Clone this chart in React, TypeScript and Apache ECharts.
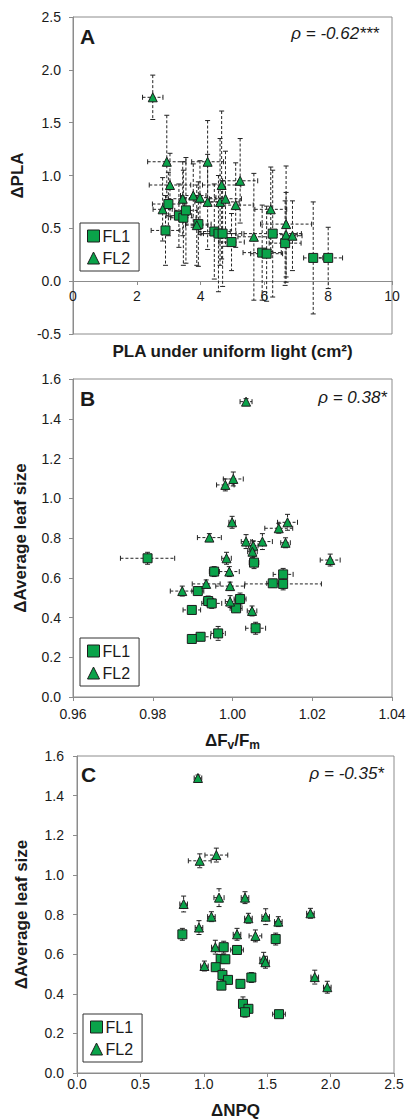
import React, { useEffect, useRef } from "react";
import * as echarts from "echarts";

// [x, y, xErr, yErr]
const panelA_FL1: number[][] = [
  [2.90, 0.48, 0.45, 0.33], [2.99, 0.73, 0.5, 0.3], [3.32, 0.62, 0.4, 0.3], [3.46, 0.60, 0.4, 0.45],
  [3.54, 0.67, 0.35, 0.5], [3.93, 0.54, 0.4, 0.4], [4.43, 0.47, 0.5, 0.45], [4.56, 0.45, 0.55, 0.55],
  [4.69, 0.45, 0.6, 0.5], [4.97, 0.37, 0.4, 0.27], [5.93, 0.27, 0.6, 0.45], [6.07, 0.26, 0.5, 0.45],
  [6.26, 0.45, 0.9, 0.6], [6.65, 0.36, 0.5, 0.4], [7.53, 0.22, 0.3, 0.53], [8.00, 0.22, 0.45, 0.29],
];
const panelA_FL2: number[][] = [
  [2.50, 1.74, 0.32, 0.21], [2.94, 1.13, 0.6, 0.44], [4.22, 1.13, 0.5, 0.39], [3.04, 0.91, 0.65, 0.3],
  [4.66, 0.91, 0.6, 0.7], [5.24, 0.95, 0.55, 0.4], [2.81, 0.68, 0.3, 0.3], [3.44, 0.78, 0.45, 0.35],
  [3.77, 0.81, 0.4, 0.3], [3.98, 0.79, 0.5, 0.35], [4.22, 0.75, 0.4, 0.45], [4.61, 0.75, 0.6, 0.6],
  [4.78, 0.78, 0.5, 0.45], [5.10, 0.72, 0.55, 0.4], [3.88, 0.53, 0.35, 0.38], [5.67, 0.42, 0.5, 0.6],
  [6.20, 0.68, 0.5, 0.4], [6.68, 0.54, 0.8, 0.55], [6.68, 0.44, 0.35, 0.4], [6.88, 0.43, 0.3, 0.33],
];
const panelB_FL1: number[][] = [
  [0.9787, 0.698, 0.0068, 0.03], [1.0054, 0.676, 0.0012, 0.03], [0.9954, 0.631, 0.0012, 0.025],
  [1.0127, 0.617, 0.0025, 0.03], [1.0101, 0.572, 0.0015, 0.02], [1.0127, 0.569, 0.0096, 0.03],
  [0.9913, 0.533, 0.0015, 0.02], [0.9939, 0.483, 0.0012, 0.025], [0.9948, 0.471, 0.0025, 0.025],
  [1.0019, 0.493, 0.0015, 0.03], [1.0009, 0.446, 0.0015, 0.02], [0.9898, 0.438, 0.0022, 0.02],
  [1.0058, 0.346, 0.0025, 0.03], [0.9964, 0.320, 0.0018, 0.035], [0.9920, 0.303, 0.0025, 0.02],
  [0.9898, 0.292, 0.0008, 0.015],
];
const panelB_FL2: number[][] = [
  [1.0034, 1.486, 0.0015, 0.015], [1.0002, 1.097, 0.0025, 0.035], [0.9982, 1.067, 0.0022, 0.03],
  [0.9999, 0.879, 0.0008, 0.03], [0.9942, 0.802, 0.003, 0.02], [1.0034, 0.782, 0.0012, 0.035],
  [1.0052, 0.761, 0.0012, 0.025], [1.0050, 0.731, 0.0012, 0.03], [1.0075, 0.782, 0.0025, 0.04],
  [1.0116, 0.849, 0.0035, 0.025], [1.0138, 0.879, 0.0025, 0.04], [1.0133, 0.776, 0.0012, 0.025],
  [0.9985, 0.698, 0.0012, 0.03], [1.0245, 0.689, 0.0025, 0.03], [0.9992, 0.631, 0.0025, 0.025],
  [0.9934, 0.569, 0.0035, 0.02], [0.9874, 0.533, 0.003, 0.025], [0.9994, 0.558, 0.0036, 0.02],
  [0.9994, 0.480, 0.0012, 0.03], [1.0049, 0.433, 0.0012, 0.025],
];
const panelC_FL1: number[][] = [
  [0.831, 0.700, 0.03, 0.03], [1.567, 0.676, 0.03, 0.03], [1.157, 0.635, 0.03, 0.03],
  [1.262, 0.621, 0.05, 0.02], [1.133, 0.576, 0.03, 0.02], [1.170, 0.574, 0.03, 0.02],
  [1.094, 0.534, 0.03, 0.02], [1.147, 0.495, 0.03, 0.03], [1.191, 0.470, 0.03, 0.02],
  [1.139, 0.441, 0.03, 0.02], [1.289, 0.450, 0.03, 0.02], [1.375, 0.482, 0.03, 0.025],
  [1.309, 0.349, 0.02, 0.035], [1.352, 0.324, 0.03, 0.02], [1.325, 0.307, 0.03, 0.025],
  [1.593, 0.297, 0.05, 0.015],
];
const panelC_FL2: number[][] = [
  [0.954, 1.489, 0.03, 0.015], [0.968, 1.071, 0.09, 0.035], [1.099, 1.100, 0.09, 0.035],
  [1.120, 0.885, 0.04, 0.045], [1.325, 0.885, 0.03, 0.03], [0.841, 0.853, 0.03, 0.04],
  [1.060, 0.789, 0.03, 0.025], [1.352, 0.781, 0.03, 0.025], [1.488, 0.789, 0.03, 0.04],
  [1.588, 0.764, 0.03, 0.025], [1.841, 0.806, 0.03, 0.025], [0.962, 0.734, 0.03, 0.035],
  [1.262, 0.700, 0.03, 0.03], [1.407, 0.692, 0.05, 0.03], [1.091, 0.635, 0.03, 0.035],
  [1.005, 0.540, 0.03, 0.025], [1.472, 0.574, 0.03, 0.035], [1.486, 0.559, 0.03, 0.03],
  [1.875, 0.484, 0.03, 0.035], [1.974, 0.433, 0.03, 0.03],
];

const panelLabels = ["A", "B", "C"];
const rhoTexts = ["ρ = -0.62***", "ρ = 0.38*", "ρ = -0.35*"];
const legendNames = ["FL1", "FL2"];

const FONT = '"Liberation Sans", Arial, Helvetica, sans-serif';
const GREEN = "#0aa34a";
const EDGE = "#1d1d1d";
const AXIS = "#8c8c8c";
const TXT = "#1a1a1a";

function errRender(params: any, api: any) {
  const x = api.value(0), y = api.value(1), xe = api.value(2), ye = api.value(3);
  const c = api.coord([x, y]);
  const l = api.coord([x - xe, y]);
  const r = api.coord([x + xe, y]);
  const t = api.coord([x, y + ye]);
  const b = api.coord([x, y - ye]);
  const cap = 2.5;
  const dash = { stroke: "#222", lineWidth: 1, lineDash: [3, 2], fill: null };
  const solid = { stroke: "#222", lineWidth: 1, fill: null };
  return {
    type: "group",
    children: [
      { type: "line", shape: { x1: l[0], y1: c[1], x2: r[0], y2: c[1] }, style: dash },
      { type: "line", shape: { x1: c[0], y1: t[1], x2: c[0], y2: b[1] }, style: dash },
      { type: "line", shape: { x1: l[0], y1: c[1] - cap, x2: l[0], y2: c[1] + cap }, style: solid },
      { type: "line", shape: { x1: r[0], y1: c[1] - cap, x2: r[0], y2: c[1] + cap }, style: solid },
      { type: "line", shape: { x1: c[0] - cap, y1: t[1], x2: c[0] + cap, y2: t[1] }, style: solid },
      { type: "line", shape: { x1: c[0] - cap, y1: b[1], x2: c[0] + cap, y2: b[1] }, style: solid },
    ],
  };
}

export default function App() {
  const ref = useRef<HTMLDivElement>(null);
  useEffect(() => {
    if (!ref.current) return;
    const chart = echarts.init(ref.current, undefined, { renderer: "svg" });

    const labelStyle = (fmt: (v: number) => string, margin: number) => ({
      fontSize: 14, color: TXT, fontFamily: FONT, margin, formatter: fmt,
    });
    const axisCommon = {
      type: "value",
      axisLine: { show: true, onZero: false, lineStyle: { color: AXIS, width: 1 } },
      axisTick: { show: true, length: 4, inside: false, lineStyle: { color: AXIS } },
      splitLine: { show: false },
      nameLocation: "middle",
      nameTextStyle: { fontSize: 17, fontWeight: "bold", color: TXT, fontFamily: FONT },
    };
    const grids = [
      { left: 73, top: 17, width: 319, height: 317 },
      { left: 73, top: 379, width: 319, height: 318 },
      { left: 77, top: 756, width: 317, height: 317 },
    ].map((g) => ({ ...g, show: true, borderColor: AXIS, borderWidth: 1, containLabel: false, outerBoundsMode: "none" }));

    // Panel A x-axis sits on y = 0 (0.5 of 3.0 units above the bottom edge)
    const offsetA = -Math.round(317 * (0.5 / 3));

    const xAxes = [
      { ...axisCommon, gridIndex: 0, min: 0, max: 10, interval: 2, offset: offsetA,
        axisLabel: labelStyle((v) => String(v), 8),
        name: "PLA under uniform light (cm²)", nameGap: 62 },
      { ...axisCommon, gridIndex: 1, min: 0.96, max: 1.04, interval: 0.02, axisLabel: labelStyle((v) => v.toFixed(2), 10),
        name: "{b|ΔF}{s|v}{b|/F}{s|m}", nameGap: 33,
        nameTextStyle: {
          color: TXT, fontFamily: FONT,
          rich: {
            b: { fontSize: 17, fontWeight: "bold", color: TXT, fontFamily: FONT, lineHeight: 20 },
            s: { fontSize: 12, fontWeight: "bold", color: TXT, fontFamily: FONT, lineHeight: 12, padding: [9, 0, 0, 0] },
          },
        } },
      { ...axisCommon, gridIndex: 2, min: 0, max: 2.5, interval: 0.5, axisLabel: labelStyle((v) => v.toFixed(1), 4),
        name: "ΔNPQ", nameGap: 29,
        nameTextStyle: { fontSize: 17, fontWeight: "bold", color: TXT, fontFamily: FONT, lineHeight: 17 } },
    ];
    const yAxes = [
      { ...axisCommon, gridIndex: 0, min: -0.5, max: 2.5, interval: 0.5, axisLabel: labelStyle((v) => v.toFixed(1), 12),
        name: "ΔPLA", nameGap: 46 },
      { ...axisCommon, gridIndex: 1, min: 0, max: 1.6, interval: 0.2, axisLabel: labelStyle((v) => v.toFixed(1), 12),
        name: "ΔAverage leaf size", nameGap: 44 },
      { ...axisCommon, gridIndex: 2, min: 0, max: 1.6, interval: 0.2, axisLabel: labelStyle((v) => v.toFixed(1), 13),
        name: "ΔAverage leaf size", nameGap: 47 },
    ];

    const panels = [
      [panelA_FL1, panelA_FL2],
      [panelB_FL1, panelB_FL2],
      [panelC_FL1, panelC_FL2],
    ];
    const series: any[] = [];
    panels.forEach((pair, i) => {
      pair.forEach((data, j) => {
        series.push({
          type: "custom", name: `err${i}${j}`, xAxisIndex: i, yAxisIndex: i,
          data, renderItem: errRender, encode: { x: 0, y: 1 }, z: 1, silent: true,
        });
      });
    });
    panels.forEach((pair, i) => {
      pair.forEach((data, j) => {
        series.push({
          type: "scatter", name: legendNames[j], xAxisIndex: i, yAxisIndex: i,
          data: data.map((d) => [d[0], d[1]]),
          symbol: j === 0 ? "rect" : "triangle",
          symbolSize: 9,
          itemStyle: { color: GREEN, borderColor: EDGE, borderWidth: 1, opacity: 1 },
          z: 3,
        });
      });
    });

    const legendPos = [
      { left: 80, top: 223 },
      { left: 80, top: 638 },
      { left: 83, top: 1014 },
    ];
    const legends = legendPos.map((p) => ({
      ...p,
      orient: "vertical",
      data: [{ name: "FL1", icon: "rect" }, { name: "FL2", icon: "triangle" }],
      itemWidth: 12, itemHeight: 12, itemGap: 6,
      padding: [5, 9, 5, 7],
      borderColor: "#333", borderWidth: 1, backgroundColor: "#fff",
      textStyle: { fontSize: 16, color: TXT, fontFamily: FONT, padding: [0, 0, 0, -2] },
      itemStyle: { color: GREEN, borderColor: EDGE, borderWidth: 1 },
      selectedMode: false,
    }));

    const labelPos = [
      { x: 80, y: 36, rx: 379, ry: 33 },
      { x: 80, y: 398, rx: 387, ry: 397 },
      { x: 81, y: 774, rx: 384, ry: 773 },
    ];
    const graphic: any[] = [];
    labelPos.forEach((p, i) => {
      graphic.push({
        type: "text", x: p.x, y: p.y, z: 10,
        style: { text: panelLabels[i], fontSize: 21, fontWeight: "bold", fontFamily: FONT, fill: TXT, align: "left", verticalAlign: "middle" },
      });
      graphic.push({
        type: "text", x: p.rx, y: p.ry, z: 10,
        style: { text: rhoTexts[i], fontSize: 17, fontStyle: "italic", fontFamily: FONT, fill: TXT, align: "right", verticalAlign: "middle" },
      });
    });

    chart.setOption({
      animation: false,
      backgroundColor: "#fff",
      textStyle: { fontFamily: FONT },
      grid: grids,
      xAxis: xAxes,
      yAxis: yAxes,
      legend: legends,
      series,
      graphic,
    });
    return () => chart.dispose();
  }, []);
  return <div ref={ref} style={{ position: "absolute", left: 0, top: 0, width: 407, height: 1120 }} />;
}
